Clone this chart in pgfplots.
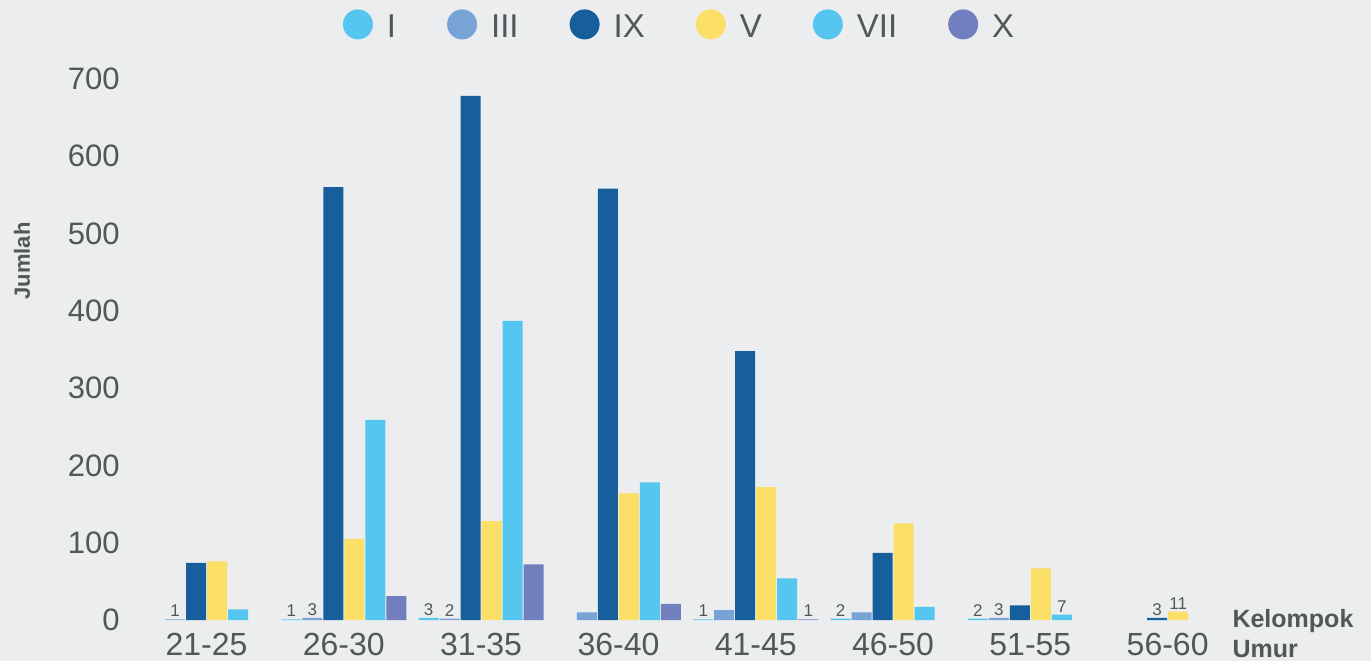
\documentclass[border=0pt]{standalone}
\usepackage{pgfplots}
\pgfplotsset{compat=1.18}
\usepackage{pgfplotstable}
\usepackage{fontspec}
\setmainfont{Liberation Sans}
\usetikzlibrary{backgrounds}

\definecolor{bg}{HTML}{ECEDEF}
\definecolor{txt}{HTML}{505858}
\definecolor{cI}{HTML}{54C6F0}
\definecolor{cIII}{HTML}{77A3D6}
\definecolor{cIX}{HTML}{175E9C}
\definecolor{cV}{HTML}{FBDF66}
\definecolor{cVII}{HTML}{54C6F0}
\definecolor{cX}{HTML}{727FBF}

% x: 0 = 21-25, 1 = 26-30, ..., 7 = 56-60
\pgfplotstableread{
x y lab
1 1 1
2 3 3
4 1 1
5 2 2
6 2 2
}\dI
\pgfplotstableread{
x y lab
0 1 1
1 3 3
2 2 2
3 10 {}
4 13 {}
5 10 {}
6 3 3
}\dIII
\pgfplotstableread{
x y lab
0 74 {}
1 560 {}
2 678 {}
3 558 {}
4 348 {}
5 87 {}
6 19 {}
7 3 3
}\dIX
\pgfplotstableread{
x y lab
0 76 {}
1 105 {}
2 128 {}
3 164 {}
4 172 {}
5 125 {}
6 67 {}
7 11 11
}\dV
\pgfplotstableread{
x y lab
0 14 {}
1 259 {}
2 387 {}
3 178 {}
4 54 {}
5 17 {}
6 7 7
}\dVII
\pgfplotstableread{
x y lab
1 31 {}
2 72 {}
3 21 {}
4 1 1
}\dX

\begin{document}
\begin{tikzpicture}
\begin{axis}[
  x=68.65pt, y=0.3865pt,
  xmin=-0.601, xmax=7.6, ymin=0, ymax=700,
  ybar=0.5pt, bar width=10pt,
  clip=false,
  axis line style={draw=none}, tick style={draw=none},
  /pgf/number format/assume math mode=true,
  xtick={0,...,7},
  xticklabels={21-25,26-30,31-35,36-40,41-45,46-50,51-55,56-60},
  ytick={0,100,...,700},
  ticklabel style={text=txt},
  yticklabel style={font=\fontsize{15.5}{18}\selectfont, anchor=east, inner sep=0pt, xshift=-2pt},
  xticklabel style={font=\fontsize{16}{19}\selectfont, anchor=north, inner sep=0pt, yshift=-2pt},
  ylabel={Jumlah},
  ylabel style={at={(rel axis cs:-0.0906,0.6636)}, anchor=center, font=\bfseries\fontsize{11}{13}\selectfont, text=txt},
  xlabel={Kelompok\\Umur},
  xlabel style={at={(rel axis cs:0.9841,-0.0243)}, anchor=west, align=left, inner sep=0pt, font=\bfseries\fontsize{12.5}{15}\selectfont, text=txt},
  legend style={draw=none, fill=none, legend columns=6,
    at={(rel axis cs:0.4925,1.0998)}, anchor=center,
    font=\fontsize{16.5}{19}\selectfont, text=txt,
    column sep=0pt, nodes={inner sep=0pt},
    /tikz/every odd column/.append style={column sep=7pt},
    /tikz/every even column/.append style={column sep=25.5pt}},
  legend image code/.code={\fill[#1,draw=none] (0pt,0.16em) circle (7.5pt);},
  nodes near coords style={font=\fontsize{8.5}{10}\selectfont, text=txt, inner sep=1pt, anchor=south},
]
\addplot[fill=cI, draw=none, nodes near coords, point meta=explicit symbolic] table[meta=lab] {\dI};
\addplot[fill=cIII, draw=none, nodes near coords, point meta=explicit symbolic] table[meta=lab] {\dIII};
\addplot[fill=cIX, draw=none, nodes near coords, point meta=explicit symbolic] table[meta=lab] {\dIX};
\addplot[fill=cV, draw=none, nodes near coords, point meta=explicit symbolic] table[meta=lab] {\dV};
\addplot[fill=cVII, draw=none, nodes near coords, point meta=explicit symbolic] table[meta=lab] {\dVII};
\addplot[fill=cX, draw=none, nodes near coords, point meta=explicit symbolic] table[meta=lab] {\dX};
\legend{I,III,IX,V,VII,X}
\coordinate (bl) at (axis cs:-1.504,-53);
\coordinate (tr) at (axis cs:8.481,802.1);
\end{axis}
\begin{pgfonlayer}{background}
\fill[bg] (bl) rectangle (tr);
\end{pgfonlayer}
\pgfresetboundingbox
\useasboundingbox (bl) rectangle (tr);
\end{tikzpicture}
\end{document}
